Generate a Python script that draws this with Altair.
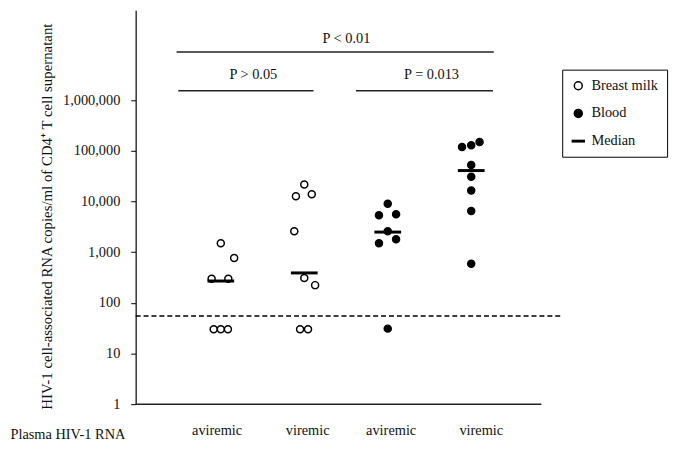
import json
import altair as alt
import pandas as pd

# ---- data ----
groups = ["aviremic", "viremic", "aviremic", "viremic"]
group_pos = [1, 2, 3, 4]
label_pos = [0.95, 2.035, 3.035, 4.115]
group_sample = ["Breast milk", "Breast milk", "Blood", "Blood"]

g1_vals = [1500, 770, 300, 300, 30, 30, 30]
g1_off = [0.0, 0.16, -0.11, 0.09, -0.085, 0.0, 0.085]
g2_vals = [21800, 12700, 13900, 2600, 310, 224, 30, 30]
g2_off = [0.0, -0.1, 0.09, -0.12, 0.0, 0.13, -0.05, 0.045]
g3_vals = [9100, 5400, 5600, 2600, 1500, 1800, 31]
g3_off = [0.0, -0.105, 0.1, 0.0, -0.105, 0.1, 0.0]
g4_vals = [120000, 130000, 150000, 53000, 31000, 16600, 6500, 590]
g4_off = [-0.11, 0.0, 0.1, 0.0, 0.0, 0.0, 0.0, 0.0]

medians = [270, 390, 2500, 41000]

detection_limit = 55
x_domain = [-0.02, 5.09]
xaxis_extent = [-0.02, 4.84]

sig_text = ["P < 0.01", "P > 0.05", "P = 0.013"]
sig_x1 = [0.47, 0.49, 2.62]
sig_x2 = [4.27, 2.11, 4.26]
sig_y = [9.0e6, 1.55e6, 1.55e6]
sig_text_x = [2.505, 1.39, 3.525]
sig_text_y = [1.6e7, 3.2e6, 3.2e6]

series_names = ["Breast milk", "Blood", "Median"]
y_ticks = [1, 10, 100, 1000, 10000, 100000, 1000000]

FONT = "Liberation Serif"

# ---- tables ----
rows = []
for pos, sample, vals, offs in zip(group_pos, group_sample,
                                    [g1_vals, g2_vals, g3_vals, g4_vals],
                                    [g1_off, g2_off, g3_off, g4_off]):
    for v, o in zip(vals, offs):
        rows.append({"x": pos + o, "value": v, "series": sample})
pts = pd.DataFrame(rows)
med = pd.DataFrame({"x": group_pos, "value": medians})
dash = pd.DataFrame({"x": [x_domain[0]], "x2": [x_domain[1]], "value": [detection_limit]})
xline = pd.DataFrame({"x": [xaxis_extent[0]], "x2": [xaxis_extent[1]], "value": [1]})
sig = pd.DataFrame({"x": sig_x1, "x2": sig_x2, "value": sig_y,
                    "tx": sig_text_x, "ty": sig_text_y, "label": sig_text})

label_expr = json.dumps(groups) + "[round(datum.value) - 1]"

xscale = alt.Scale(domain=x_domain, nice=False, zero=False)
yscale = alt.Scale(type="log", domain=[1, 6e7], nice=False)

x_axis = alt.Axis(
    values=label_pos, labelExpr=label_expr, domain=False, ticks=False, tickSize=0,
    grid=False, labelPadding=20, labelFont=FONT, labelFontSize=14.5, labelColor="#111",
    title="Plasma HIV-1 RNA", titleFont=FONT, titleFontSize=14.5, titleFontWeight="normal",
    titleColor="#111", titleX=-127, titleY=31, titleAlign="left", titleBaseline="middle")
y_axis = alt.Axis(
    values=y_ticks, format=",", grid=False, domainColor="black", domainWidth=1.2,
    tickColor="black", tickSize=5, labelPadding=11, labelFont=FONT, labelFontSize=14.5,
    labelColor="#111",
    title="HIV-1 cell-associated RNA copies/ml of CD4\u207a T cell supernatant",
    titleFont=FONT, titleFontSize=15, titleFontWeight="normal", titleColor="#111",
    titleX=-90, titleY=208, titleBaseline="middle")


def X(field):
    return alt.X(field, scale=xscale, axis=x_axis)


def Y(field):
    return alt.Y(field, scale=yscale, axis=y_axis)


dashed = alt.Chart(dash).mark_rule(strokeDash=[5, 3], strokeWidth=1.5, color="black").encode(
    x=X("x:Q"), x2="x2:Q", y=Y("value:Q"))
xaxis_line = alt.Chart(xline).mark_rule(strokeWidth=1.5, color="#222").encode(
    x=X("x:Q"), x2="x2:Q", y=Y("value:Q"))
sig_rules = alt.Chart(sig).mark_rule(strokeWidth=1.5, color="#222").encode(
    x=X("x:Q"), x2="x2:Q", y=Y("value:Q"))
sig_labels = alt.Chart(sig).mark_text(font=FONT, fontSize=14.5, color="#111",
                                      align="center", baseline="middle").encode(
    x=X("tx:Q"), y=Y("ty:Q"), text="label:N")

median_path = "M-1.5,-0.18H1.5V0.18H-1.5Z"
nb = "\u00a0" * 5
legend = alt.Legend(title=None, orient="none", legendX=431, legendY=60,
                    strokeColor="black", padding=9, rowPadding=12, labelOffset=6,
                    symbolSize=64, symbolStrokeColor="black", symbolStrokeWidth=1.5,
                    labelFont=FONT, labelFontSize=14.5, labelColor="#111",
                    labelExpr="datum.label + '" + nb + "'")

points = alt.Chart(pts).mark_point(filled=True, stroke="black", strokeWidth=1.5,
                                   size=50, opacity=1).encode(
    x=X("x:Q"), y=Y("value:Q"),
    fill=alt.Fill("series:N", scale=alt.Scale(domain=series_names,
                                              range=["white", "black", "black"]),
                  legend=legend),
    stroke=alt.Stroke("series:N", scale=alt.Scale(domain=series_names,
                                                  range=["black", "black", "black"]),
                      legend=legend),
    shape=alt.Shape("series:N", scale=alt.Scale(domain=series_names,
                                                range=["circle", "circle", median_path]),
                    legend=legend))

med_ticks = alt.Chart(med).mark_tick(orient="horizontal", color="black",
                                     thickness=3, size=27, opacity=1).encode(
    x=X("x:Q"), y=Y("value:Q"))

chart = alt.layer(dashed, xaxis_line, sig_rules, sig_labels, points, med_ticks).properties(
    width=431, height=398,
    padding={"left": 129, "top": 0, "right": 116, "bottom": 40},
    autosize=alt.AutoSizeParams(type="none"),
).configure_view(stroke=None)

chart.save("out.html", embed_options={"renderer": "svg", "actions": False})
